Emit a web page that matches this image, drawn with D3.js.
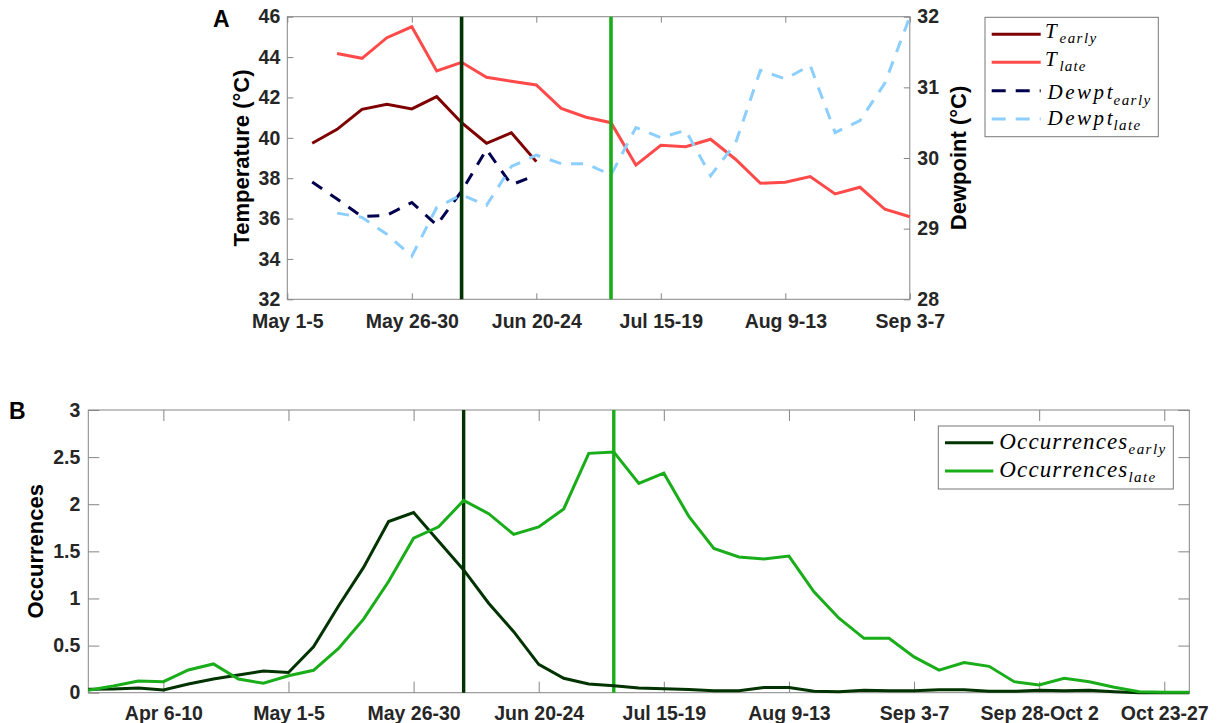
<!DOCTYPE html>
<html>
<head>
<meta charset="utf-8">
<script src="https://cdn.jsdelivr.net/npm/d3@7"></script>
<style>
  body { margin: 0; background: #fff; }
  svg { display: block; font-family: "Liberation Sans", Arial, sans-serif; }
  .tick text { font-weight: bold; fill: #262626; }
  .axis-label { font-weight: bold; fill: #000; }
  .legend-text { font-family: "Liberation Serif", "DejaVu Serif", serif; font-style: italic; fill: #000; }
</style>
</head>
<body>
<svg id="chart" width="1219" height="723"></svg>
<script>
// Pentad index: 0 = Mar 22-26, 1 = Mar 27-31, ... (five-day periods)
const tickPentads = [3, 8, 13, 18, 23, 28, 33, 38, 43];
const tickLabels = ["Apr 6-10", "May 1-5", "May 26-30", "Jun 20-24", "Jul 15-19",
                    "Aug 9-13", "Sep 3-7", "Sep 28-Oct 2", "Oct 23-27"];

// Panel A: mean temperature and dewpoint per pentad (°C)
const tempEarlyStart = 9;
const tempEarly = [39.73, 40.42, 41.41, 41.66, 41.43, 42.04, 40.75, 39.73, 40.25, 38.82];
const tempLateStart = 10;
const tempLate = [44.18, 43.94, 44.96, 45.5, 43.31, 43.74, 43.0, 42.8, 42.62, 41.46,
                  41.02, 40.75, 38.65, 39.63, 39.56, 39.93, 38.94, 37.75, 37.8, 38.08,
                  37.22, 37.55, 36.46, 36.09];
const dewEarlyStart = 9;
const dewEarly = [29.66, 29.42, 29.17, 29.19, 29.37, 29.05, 29.53, 30.12, 29.62, 29.76];
const dewLateStart = 10;
const dewLate = [29.22, 29.16, 28.92, 28.61, 29.30, 29.48, 29.33, 29.88, 30.04, 29.92,
                 29.92, 29.76, 30.43, 30.29, 30.39, 29.75, 30.21, 31.24, 31.12, 31.31,
                 30.36, 30.53, 31.06, 32.0];

// Panel B: mean occurrences per pentad, from pentad 0
const occEarly = [0.036, 0.04, 0.05, 0.029, 0.092, 0.145, 0.188, 0.23, 0.214, 0.488,
                  0.92, 1.33, 1.816, 1.911, 1.607, 1.303, 0.949, 0.648, 0.301, 0.153,
                  0.092, 0.074, 0.05, 0.042, 0.035, 0.02, 0.02, 0.056, 0.056, 0.016,
                  0.01, 0.025, 0.02, 0.02, 0.03, 0.03, 0.015, 0.015, 0.025, 0.02,
                  0.025, 0.01, 0.0, 0.0, 0.0];
const occLate = [0.025, 0.071, 0.124, 0.117, 0.241, 0.305, 0.145, 0.10, 0.18, 0.238,
                 0.47, 0.78, 1.18, 1.64, 1.76, 2.04, 1.90, 1.68, 1.76, 1.95,
                 2.54, 2.555, 2.22, 2.33, 1.87, 1.53, 1.44, 1.42, 1.45, 1.07,
                 0.79, 0.577, 0.577, 0.38, 0.24, 0.32, 0.28, 0.117, 0.082, 0.153,
                 0.117, 0.057, 0.01, 0.005, 0.005];

// Mean onset pentads (Jun 5-9 and Jul 5-9)
const onsetEarly = 15;
const onsetLate = 21;

const tempTicks = [32, 34, 36, 38, 40, 42, 44, 46];
const dewTicks = [28, 29, 30, 31, 32];
const occTicks = [0, 0.5, 1, 1.5, 2, 2.5, 3];

const colors = {
  tEarly: "#7f0000", tLate: "#ff4a4a",
  dEarly: "#00004f", dLate: "#8ccfff",
  oEarly: "#003300", oLate: "#1aad1a",
  axis: "#858585"
};

const svg = d3.select("#chart");
const tickFont = 19.5;

function series(values, start) {
  return values.map((v, i) => [start + i, v]);
}

function styleAxis(g) {
  g.select(".domain").remove();
  g.selectAll(".tick line").attr("stroke", colors.axis).attr("stroke-width", 1);
  g.selectAll(".tick text").style("font-size", tickFont + "px");
}

// ---------------- Panel A ----------------
const A = { left: 287.3, right: 909.8, top: 16.7, bottom: 299.3 };
const xA = d3.scaleLinear([8, 33], [A.left, A.right]);
const yT = d3.scaleLinear([32, 46], [A.bottom, A.top]);
const yD = d3.scaleLinear([28, 32], [A.bottom, A.top]);
const gA = svg.append("g");

const ticksA = tickPentads.filter(p => p >= 8 && p <= 33);
const labelOf = p => tickLabels[tickPentads.indexOf(p)];

gA.append("g").attr("transform", `translate(0,${A.bottom})`)
  .call(d3.axisBottom(xA).tickValues(ticksA).tickFormat(labelOf).tickSize(-6).tickPadding(14.5))
  .call(styleAxis);
gA.append("g").attr("transform", `translate(0,${A.top})`)
  .call(d3.axisTop(xA).tickValues(ticksA).tickFormat("").tickSize(-6))
  .call(styleAxis);
gA.append("g").attr("transform", `translate(${A.left},0)`)
  .call(d3.axisLeft(yT).tickValues(tempTicks).tickFormat(d => d).tickSize(-6).tickPadding(7))
  .call(styleAxis);
gA.append("g").attr("transform", `translate(${A.right},0)`)
  .call(d3.axisRight(yD).tickValues(dewTicks).tickFormat(d => d).tickSize(-6).tickPadding(7.5))
  .call(styleAxis);

gA.append("rect")
  .attr("x", A.left).attr("y", A.top)
  .attr("width", A.right - A.left).attr("height", A.bottom - A.top)
  .attr("fill", "none").attr("stroke", colors.axis).attr("stroke-width", 1);

const lineT = d3.line().x(d => xA(d[0])).y(d => yT(d[1]));
const lineD = d3.line().x(d => xA(d[0])).y(d => yD(d[1]));

gA.append("path").datum(series(tempEarly, tempEarlyStart)).attr("d", lineT)
  .attr("fill", "none").attr("stroke", colors.tEarly).attr("stroke-width", 3);
gA.append("path").datum(series(tempLate, tempLateStart)).attr("d", lineT)
  .attr("fill", "none").attr("stroke", colors.tLate).attr("stroke-width", 3);
gA.append("path").datum(series(dewEarly, dewEarlyStart)).attr("d", lineD)
  .attr("fill", "none").attr("stroke", colors.dEarly).attr("stroke-width", 3)
  .attr("stroke-dasharray", "12,10");
gA.append("path").datum(series(dewLate, dewLateStart)).attr("d", lineD)
  .attr("fill", "none").attr("stroke", colors.dLate).attr("stroke-width", 3)
  .attr("stroke-dasharray", "12,10");

[[onsetEarly, colors.oEarly], [onsetLate, colors.oLate]].forEach(([p, c]) => {
  gA.append("line")
    .attr("x1", xA(p)).attr("x2", xA(p)).attr("y1", A.top).attr("y2", A.bottom)
    .attr("stroke", c).attr("stroke-width", 3.6);
});

gA.append("text").attr("class", "axis-label")
  .attr("transform", `translate(249,${(A.top + A.bottom) / 2}) rotate(-90)`)
  .attr("text-anchor", "middle").style("font-size", "22px")
  .text("Temperature (°C)");
gA.append("text").attr("class", "axis-label")
  .attr("transform", `translate(966,${(A.top + A.bottom) / 2}) rotate(-90)`)
  .attr("text-anchor", "middle").style("font-size", "22px")
  .text("Dewpoint (°C)");
gA.append("text").attr("class", "axis-label")
  .attr("x", 213).attr("y", 27).style("font-size", "23px").text("A");

// Legend A
const legendA = [
  { main: "T", sub: "early", color: colors.tEarly, dash: null, mainW: null, subW: 36.7, subX: 1059.5, mainX: 1045, y: 34.3, base: 37.5 },
  { main: "T", sub: "late", color: colors.tLate, dash: null, mainW: null, subW: 26, subX: 1059.5, mainX: 1045, y: 62.3, base: 65.5 },
  { main: "Dewpt", sub: "early", color: colors.dEarly, dash: "14,10", mainW: 65, subW: 36.7, subX: 1113.5, mainX: 1047.5, y: 90.7, base: 99 },
  { main: "Dewpt", sub: "late", color: colors.dLate, dash: "14,10", mainW: 65, subW: 26.7, subX: 1113.5, mainX: 1047.5, y: 119, base: 124.5 }
];
const legA = svg.append("g");
legA.append("rect").attr("x", 985).attr("y", 17.3).attr("width", 173.3).attr("height", 119.4)
  .attr("fill", "#fff").attr("stroke", "#777").attr("stroke-width", 1);
legendA.forEach(e => {
  legA.append("line").attr("x1", 991.7).attr("x2", 1040.7).attr("y1", e.y).attr("y2", e.y)
    .attr("stroke", e.color).attr("stroke-width", 3).attr("stroke-dasharray", e.dash);
  const m = legA.append("text").attr("class", "legend-text").attr("x", e.mainX).attr("y", e.base)
    .style("font-size", "21px").text(e.main);
  if (e.mainW) m.attr("textLength", e.mainW).attr("lengthAdjust", "spacing");
  legA.append("text").attr("class", "legend-text").attr("x", e.subX).attr("y", e.base + 5.5)
    .style("font-size", "15px").attr("textLength", e.subW).attr("lengthAdjust", "spacing").text(e.sub);
});

// ---------------- Panel B ----------------
const B = { left: 88.3, right: 1189.3, top: 410, bottom: 692.7 };
const xB = d3.scaleLinear([0, 44], [B.left, B.right]);
const yO = d3.scaleLinear([0, 3], [B.bottom, B.top]);
const gB = svg.append("g");

gB.append("g").attr("transform", `translate(0,${B.bottom})`)
  .call(d3.axisBottom(xB).tickValues(tickPentads).tickFormat(labelOf).tickSize(-11).tickPadding(13))
  .call(styleAxis);
gB.append("g").attr("transform", `translate(0,${B.top})`)
  .call(d3.axisTop(xB).tickValues(tickPentads).tickFormat("").tickSize(-11))
  .call(styleAxis);
gB.append("g").attr("transform", `translate(${B.left},0)`)
  .call(d3.axisLeft(yO).tickValues(occTicks).tickFormat(d => d).tickSize(-11).tickPadding(8))
  .call(styleAxis);
gB.append("g").attr("transform", `translate(${B.right},0)`)
  .call(d3.axisRight(yO).tickValues(occTicks).tickFormat("").tickSize(-11))
  .call(styleAxis);

gB.append("rect")
  .attr("x", B.left).attr("y", B.top)
  .attr("width", B.right - B.left).attr("height", B.bottom - B.top)
  .attr("fill", "none").attr("stroke", colors.axis).attr("stroke-width", 1);

[[onsetEarly, colors.oEarly], [onsetLate, colors.oLate]].forEach(([p, c]) => {
  gB.append("line")
    .attr("x1", xB(p)).attr("x2", xB(p)).attr("y1", B.top).attr("y2", B.bottom)
    .attr("stroke", c).attr("stroke-width", 3.4);
});

const lineO = d3.line().x(d => xB(d[0])).y(d => yO(d[1]));
gB.append("path").datum(series(occEarly, 0)).attr("d", lineO)
  .attr("fill", "none").attr("stroke", colors.oEarly).attr("stroke-width", 3);
gB.append("path").datum(series(occLate, 0)).attr("d", lineO)
  .attr("fill", "none").attr("stroke", colors.oLate).attr("stroke-width", 3);

gB.append("text").attr("class", "axis-label")
  .attr("transform", `translate(43,${(B.top + B.bottom) / 2}) rotate(-90)`)
  .attr("text-anchor", "middle").style("font-size", "22px")
  .text("Occurrences");
gB.append("text").attr("class", "axis-label")
  .attr("x", 9).attr("y", 419).style("font-size", "23px").text("B");

// Legend B
const legendB = [
  { main: "Occurrences", sub: "early", color: colors.oEarly, subW: 36.7, y: 442.7, base: 449.3 },
  { main: "Occurrences", sub: "late", color: colors.oLate, subW: 26.7, y: 471, base: 477.3 }
];
const legB = svg.append("g");
legB.append("rect").attr("x", 938.3).attr("y", 426).attr("width", 235).attr("height", 63)
  .attr("fill", "#fff").attr("stroke", "#777").attr("stroke-width", 1);
legendB.forEach(e => {
  legB.append("line").attr("x1", 945).attr("x2", 993.3).attr("y1", e.y).attr("y2", e.y)
    .attr("stroke", e.color).attr("stroke-width", 3);
  legB.append("text").attr("class", "legend-text").attr("x", 999.3).attr("y", e.base)
    .style("font-size", "23px").attr("textLength", 128).attr("lengthAdjust", "spacing").text(e.main);
  legB.append("text").attr("class", "legend-text").attr("x", 1128.5).attr("y", e.base + 4.5)
    .style("font-size", "15px").attr("textLength", e.subW).attr("lengthAdjust", "spacing").text(e.sub);
});
</script>
</body>
</html>
